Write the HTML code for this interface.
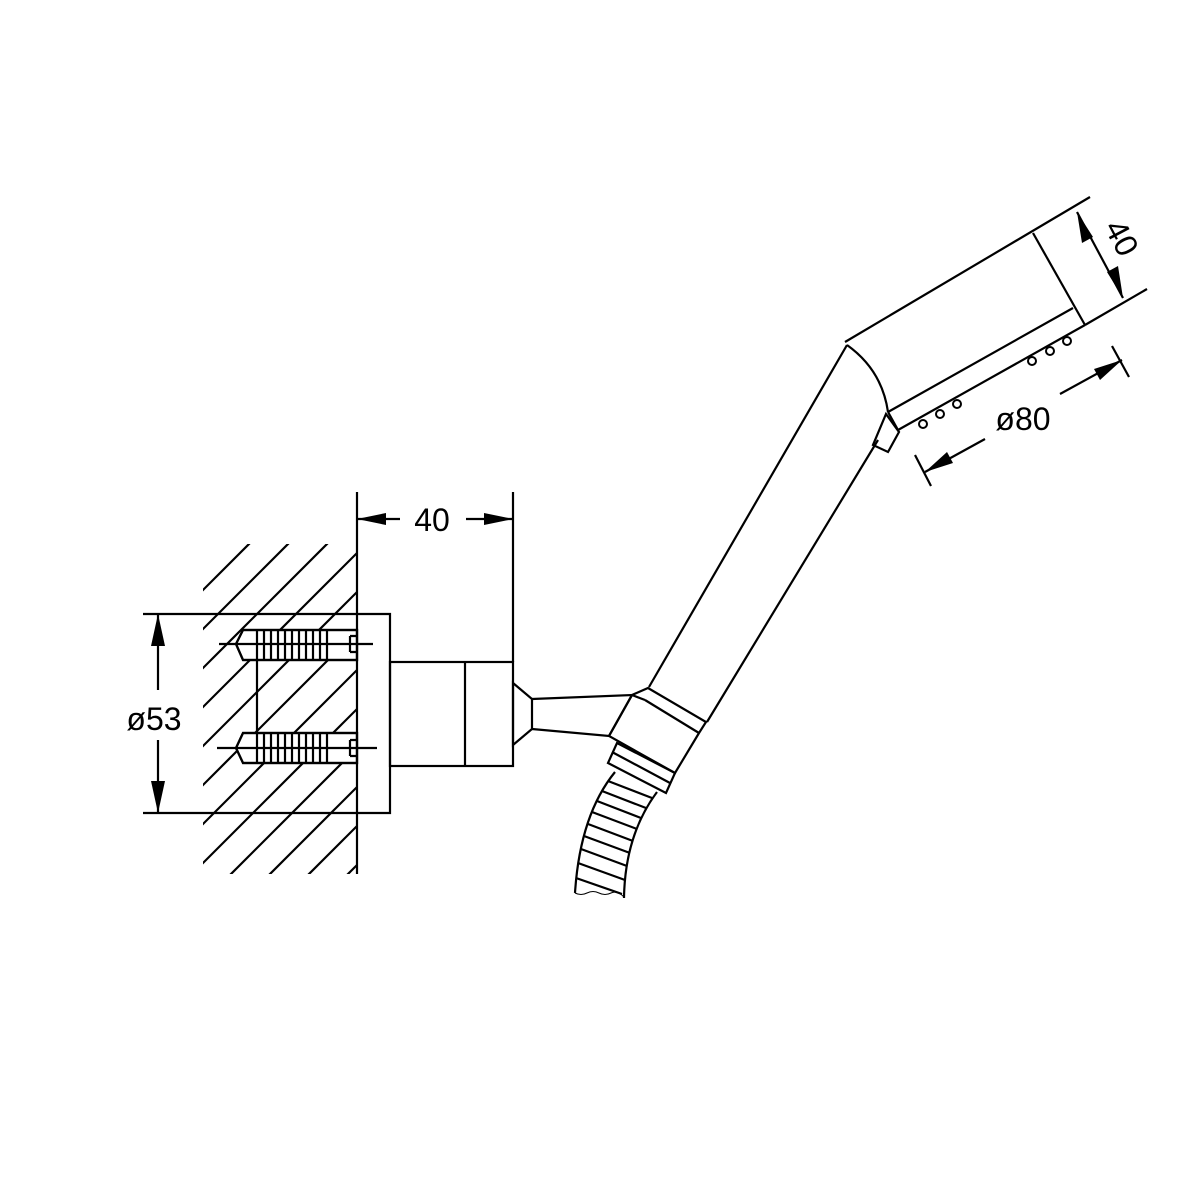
<!DOCTYPE html>
<html><head><meta charset="utf-8"><style>
html,body{margin:0;padding:0;background:#fff;}
svg{display:block;}
text{font-family:"Liberation Sans",Arial,sans-serif;fill:#000;}
</style></head><body>
<svg width="1200" height="1200" viewBox="0 0 1200 1200" xmlns="http://www.w3.org/2000/svg">
<defs>
<clipPath id="hc"><rect x="203" y="544" width="154" height="330"/></clipPath>
</defs>
<g stroke="#000" stroke-width="2.2" fill="none" stroke-linecap="butt">
<!-- hatching -->
<g clip-path="url(#hc)">
<line x1="100" y1="693" x2="400" y2="393"/>
<line x1="100" y1="732" x2="400" y2="432"/>
<line x1="100" y1="771" x2="400" y2="471"/>
<line x1="100" y1="810" x2="400" y2="510"/>
<line x1="100" y1="849" x2="400" y2="549"/>
<line x1="100" y1="888" x2="400" y2="588"/>
<line x1="100" y1="927" x2="400" y2="627"/>
<line x1="100" y1="966" x2="400" y2="666"/>
<line x1="100" y1="1005" x2="400" y2="705"/>
<line x1="100" y1="1044" x2="400" y2="744"/>
<line x1="100" y1="1083" x2="400" y2="783"/>
<line x1="100" y1="1122" x2="400" y2="822"/>
<line x1="100" y1="1161" x2="400" y2="861"/>
<line x1="100" y1="1200" x2="400" y2="900"/>
<line x1="100" y1="1239" x2="400" y2="939"/>
</g>
<!-- anchors white backgrounds -->
<polygon points="236,644 243,630 357,630 357,660 243,660" fill="#fff"/>
<polygon points="236,748 243,733 357,733 357,763 243,763" fill="#fff"/>
<rect x="257" y="660" width="0" height="73"/>
<line x1="257" y1="660" x2="257" y2="733"/>
<!-- top anchor -->
<polygon points="236,644 243,630 357,630 357,660 243,660"/>
<line x1="219" y1="644" x2="373" y2="644"/>
<path d="M257 630V660M264 630V660M271 630V660M278 630V660M285 630V660M292 630V660M299 630V660M306 630V660M313 630V660M320 630V660M327 630V660"/>
<path d="M350 636H357M350 652H357M350 636V652"/>
<!-- bottom anchor -->
<polygon points="236,748 243,733 357,733 357,763 243,763"/>
<line x1="217" y1="748" x2="377" y2="748"/>
<path d="M257 733V763M264 733V763M271 733V763M278 733V763M285 733V763M292 733V763M299 733V763M306 733V763M313 733V763M320 733V763M327 733V763"/>
<path d="M350 740H357M350 756H357M350 740V756"/>
<!-- wall -->
<line x1="357" y1="492" x2="357" y2="874"/>
<!-- plate -->
<path d="M357 614H390V813H357"/>
<line x1="143" y1="614" x2="357" y2="614"/>
<line x1="143" y1="813" x2="357" y2="813"/>
<!-- body -->
<rect x="390" y="662" width="123" height="104"/>
<line x1="465" y1="662" x2="465" y2="766"/>
<line x1="513" y1="492" x2="513" y2="662"/>
<!-- cone and arm -->
<polygon points="513,683 532,699 532,729 513,745"/>
<polyline points="532,699 632,695 609,736 532,729"/>
<!-- collar -->
<polygon points="632,695 648,688 706,722 699,733 675,773 609,736" fill="none"/>
<line x1="645" y1="700" x2="699" y2="733"/>
<line x1="645" y1="700" x2="632" y2="695"/>
<polygon points="617,743 675,773 666,793 608,763"/>
<line x1="612" y1="752" x2="670" y2="783"/>
<!-- handle -->
<line x1="649" y1="687" x2="847" y2="345"/>
<line x1="707" y1="722" x2="878" y2="440"/>
<path d="M847 345 Q882 370 888 412"/>
<polygon points="886,414 899,432 888,452 873,445"/>
<!-- head -->
<line x1="845" y1="342" x2="1090" y2="197"/>
<line x1="1085" y1="325" x2="1147" y2="289"/>
<line x1="1033" y1="233" x2="1085" y2="325"/>
<line x1="888" y1="412" x2="1073" y2="308"/>
<line x1="898" y1="430" x2="1085" y2="325"/>
<line x1="888" y1="412" x2="898" y2="430"/>
<g stroke-width="2">
<circle cx="923" cy="424" r="4"/><circle cx="940" cy="414" r="4"/><circle cx="957" cy="404" r="4"/>
<circle cx="1032" cy="361" r="4"/><circle cx="1050" cy="351" r="4"/><circle cx="1067" cy="341" r="4"/>
</g>
<!-- hose -->
<path d="M615 772 Q580 815 575 893"/>
<path d="M657 792 Q625 835 624 898"/>
<path d="M608 781L652 798M602 791L646 808M597 801L641 818M592 812L637 829M588 824L633 841M584 836L630 853M581 849L627 866M578 863L625 880M576 878L622 894"/>
<path d="M575 893 q6 3 12 0 t12 0 t12 0 t13 4" stroke-width="1"/>
<!-- dims -->
<line x1="158" y1="614" x2="158" y2="690"/>
<line x1="158" y1="740" x2="158" y2="813"/>
<line x1="357" y1="519" x2="400" y2="519"/>
<line x1="466" y1="519" x2="513" y2="519"/>
<line x1="1077" y1="212" x2="1123" y2="298"/>
<line x1="925" y1="472" x2="985" y2="439"/>
<line x1="1060" y1="394" x2="1122" y2="360"/>
<line x1="915" y1="455" x2="931" y2="486"/>
<line x1="1112" y1="346" x2="1129" y2="377"/>
</g>
<g fill="#000">
<polygon points="158,614 151,646 165,646"/>
<polygon points="158,813 151,781 165,781"/>
<polygon points="357,519 386,513 386,525"/>
<polygon points="513,519 484,513 484,525"/>
<polygon points="1077,212 1082,243 1093,237"/>
<polygon points="1123,298 1107,272 1118,266"/>
<polygon points="925,472 947,452 953,463"/>
<polygon points="1122,360 1094,369 1100,380"/>
</g>
<text x="432" y="531" font-size="32" text-anchor="middle">40</text>
<text x="154" y="730" font-size="32" text-anchor="middle">ø53</text>
<text x="1023" y="430" font-size="32" text-anchor="middle">ø80</text>
<text x="0" y="0" font-size="32" text-anchor="middle" transform="translate(1112,243) rotate(62)">40</text>
</svg>
</body></html>
